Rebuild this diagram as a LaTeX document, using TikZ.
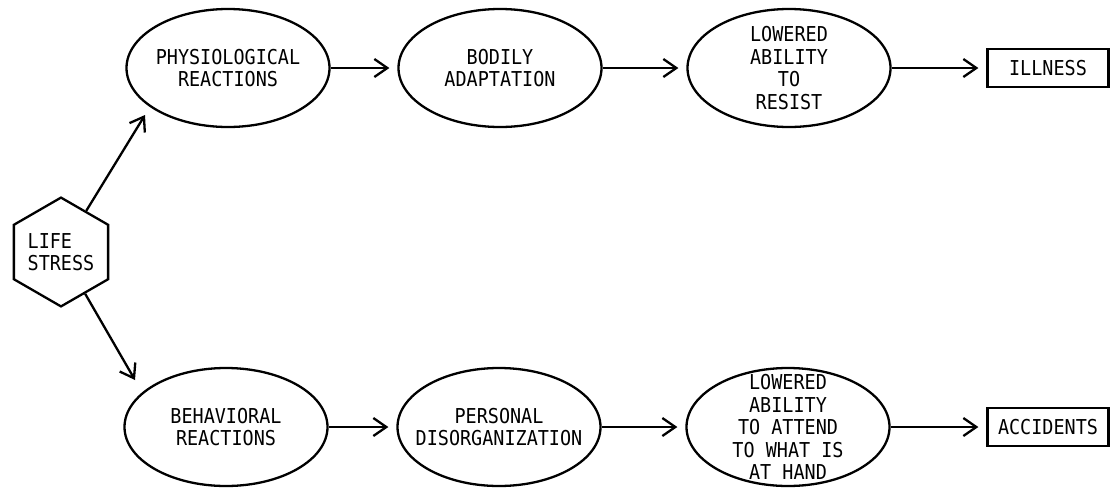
\documentclass[tikz,border=0pt]{standalone}
\usepackage{fontspec}
\setmonofont[FakeStretch=0.9]{DejaVu Sans Mono}
\usetikzlibrary{shapes.geometric,arrows.meta}

\begin{document}
\begin{tikzpicture}[x=1pt,y=-1pt,line width=2.3pt,
  every node/.style={font=\ttfamily\fontsize{20.5}{22.5}\selectfont, align=center},
  stage/.style={draw, ellipse, minimum width=203pt, minimum height=118pt, inner sep=-24pt},
  outcome/.style={draw, rectangle, minimum width=121pt, minimum height=38pt, inner sep=0pt},
  source/.style={draw, regular polygon, regular polygon sides=6, shape border rotate=30, minimum size=107pt, inner sep=0pt, align=left},
  flow/.style={-{Straight Barb[length=13pt,width=18pt]}, shorten >=8pt},
  branch/.style={-{Straight Barb[length=13pt,width=18pt]}}]
\useasboundingbox (0,0) rectangle (1110,488);

\node[source] (stress) at (61,252) {LIFE\\STRESS};

\node[stage] (physio) at (228,68) {PHYSIOLOGICAL\\REACTIONS};
\node[stage] (bodily) at (500,68) {BODILY\\ADAPTATION};
\node[stage] (resist) at (789,68) {LOWERED\\ABILITY\\TO\\RESIST};
\node[outcome] (illness) at (1048,68) {ILLNESS};

\node[stage] (behave) at (226,427) {BEHAVIORAL\\REACTIONS};
\node[stage] (disorg) at (499,427) {PERSONAL\\DISORGANIZATION};
\node[stage] (attend) at (788,427) {LOWERED\\ABILITY\\TO ATTEND\\TO WHAT IS\\AT HAND};
\node[outcome] (accidents) at (1048,427) {ACCIDENTS};

\coordinate (upTip) at (145,115);
\coordinate (downTip) at (135,380);

\draw[branch] (stress) -- (upTip);
\draw[branch] (stress) -- (downTip);

\draw[flow] (physio) -- (bodily);
\draw[flow] (bodily) -- (resist);
\draw[flow] (resist) -- (illness);
\draw[flow] (behave) -- (disorg);
\draw[flow] (disorg) -- (attend);
\draw[flow] (attend) -- (accidents);
\end{tikzpicture}
\end{document}
